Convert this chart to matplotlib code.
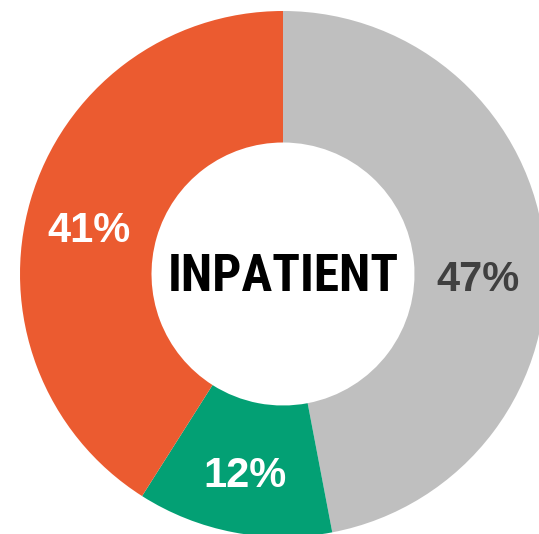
import numpy as np
import matplotlib
matplotlib.use('Agg')
import matplotlib.pyplot as plt

# %% Data
labels = ['Gray', 'Green', 'Orange']
shares = [47, 12, 41]
colors = ['#BFBFBF', '#03A074', '#EB5B30']
label_colors = ['#404040', 'white', 'white']
center_text = 'INPATIENT'

# %% Figure
W, H, DPI = 539, 534, 100
fig = plt.figure(figsize=(W / DPI, H / DPI), dpi=DPI)
ax = fig.add_axes([0, 0, 1, 1])

R_PX = 263
cx, cy = 283, 534 - 274

wedges, _ = ax.pie(
    shares,
    colors=colors,
    startangle=90,
    counterclock=False,
    radius=1.0,
    wedgeprops={'width': 0.5, 'linewidth': 0},
)
ax.set_xlim(-cx / R_PX, (W - cx) / R_PX)
ax.set_ylim(-cy / R_PX, (H - cy) / R_PX)
ax.set_aspect('auto')
ax.axis('off')

# %% Percent labels near wedge mid-angles (the gray one sits on the horizontal)
angle_nudge = {47: -5.4, 12: -0.3, 41: 2.0}
for w, val, tc in zip(wedges, shares, label_colors):
    mid = np.deg2rad((w.theta1 + w.theta2) / 2 + angle_nudge[val])
    r = 0.76 if val != 47 else 0.74
    x, y = r * np.cos(mid), r * np.sin(mid) - 0.022
    ax.text(x, y, f'{val}%', ha='center', va='center', color=tc,
            fontsize=30, fontweight='bold', family=['Liberation Sans', 'DejaVu Sans'])

ax.text(0.0, -0.012, center_text, ha='center', va='center', color='black',
        fontsize=37, fontweight='bold',
        family=['Roboto Condensed', 'Liberation Sans', 'DejaVu Sans'])

fig.savefig('out.png', dpi=DPI)
